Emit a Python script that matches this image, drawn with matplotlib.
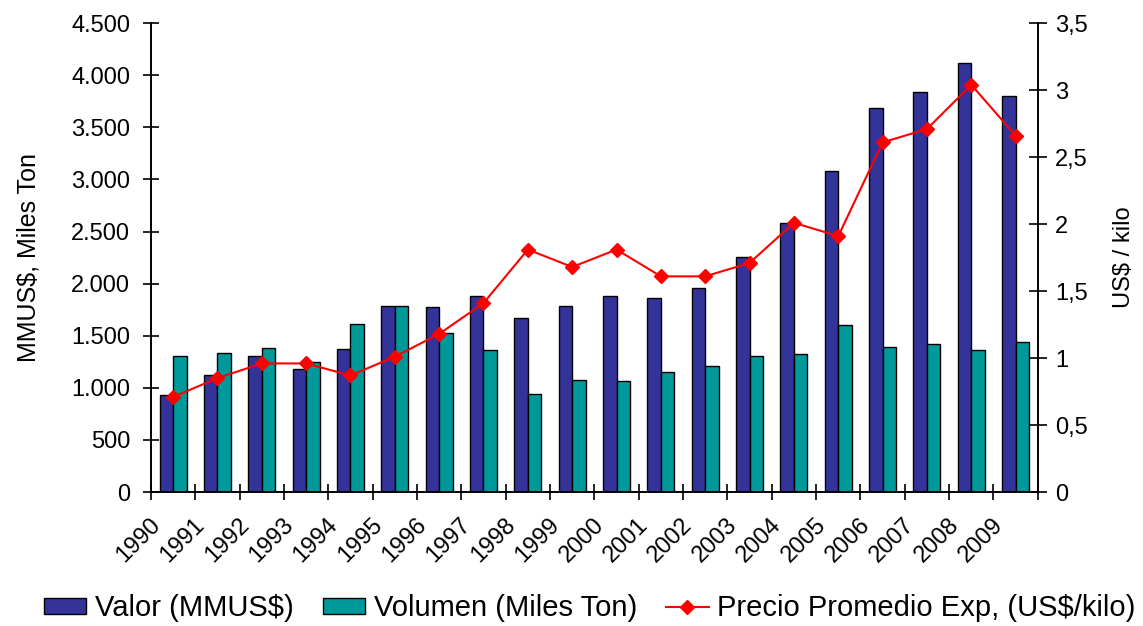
#!/usr/bin/env python3

import numpy as np
import matplotlib
matplotlib.use('Agg')
import matplotlib.pyplot as plt
import matplotlib.transforms as mtransforms
from matplotlib.ticker import FuncFormatter

plt.rcParams['font.family'] = ['Liberation Sans', 'DejaVu Sans']

years = ['1990', '1991', '1992', '1993', '1994', '1995', '1996', '1997', '1998', '1999',
         '2000', '2001', '2002', '2003', '2004', '2005', '2006', '2007', '2008', '2009']
valor = [930, 1125, 1305, 1180, 1375, 1790, 1775, 1885, 1675, 1790,
         1885, 1865, 1960, 2260, 2580, 3085, 3685, 3835, 4120, 3805]
volumen = [1305, 1335, 1385, 1250, 1615, 1790, 1530, 1365, 945, 1075,
           1065, 1155, 1210, 1305, 1325, 1605, 1395, 1425, 1365, 1440]
precio = [0.71, 0.85, 0.96, 0.96, 0.87, 1.01, 1.18, 1.41, 1.81, 1.68,
          1.81, 1.61, 1.61, 1.71, 2.01, 1.91, 2.61, 2.71, 3.04, 2.66]

fs = 17
fig = plt.figure(figsize=(11.43, 6.26), dpi=100)
ax = fig.add_axes([0.132, 0.214, 0.776, 0.749])
ax2 = ax.twinx()

x = np.arange(len(years))
w = 0.305
ax.bar(x - w / 2, valor, w, color='#333399', edgecolor='black', linewidth=1,
       label='Valor (MMUS$)', zorder=2)
ax.bar(x + w / 2, volumen, w, color='#009999', edgecolor='black', linewidth=1,
       label='Volumen (Miles Ton)', zorder=2)
ax2.plot(x, precio, color='red', linewidth=1.5, marker='D', markersize=7,
         label='Precio Promedio Exp, (US$/kilo)')

ax.set_xlim(-0.5, len(years) - 0.5)
ax.set_ylim(0, 4500)
ax2.set_ylim(0, 3.5)

ax.set_yticks(np.arange(0, 4501, 500))
ax.yaxis.set_major_formatter(FuncFormatter(lambda v, p: '{:,.0f}'.format(v).replace(',', '.')))
ax2.set_yticks(np.arange(0, 3.51, 0.5))
ax2.yaxis.set_major_formatter(FuncFormatter(lambda v, p: ('%g' % v).replace('.', ',')))

# year labels: rotated, anchored a bit left/below the category centre (Excel style)
ax.set_xticks([])
ax.set_xticks(np.arange(-0.5, len(years)), minor=True)
shift = mtransforms.ScaledTranslation(-16 / 100, -30 / 100, fig.dpi_scale_trans)
for xi, yr in zip(x, years):
    ax.text(xi, 0, yr, transform=ax.get_xaxis_transform() + shift, fontsize=fs,
            rotation=45, ha='right', va='center', rotation_mode='anchor')
ax.tick_params(axis='x', which='minor', direction='inout', length=11, width=1.2)
ax.tick_params(axis='y', direction='inout', length=12, width=1.2, labelsize=fs, pad=9)
ax2.tick_params(axis='y', direction='inout', length=13, width=1.2, labelsize=fs, pad=6)

for a in (ax, ax2):
    a.spines['top'].set_visible(False)
    for s in ('left', 'right', 'bottom'):
        a.spines[s].set_linewidth(1.2)

ax.set_ylabel('MMUS$, Miles Ton', fontsize=18, labelpad=22)
ax2.set_ylabel('US$ / kilo', fontsize=fs, labelpad=18)

h1, l1 = ax.get_legend_handles_labels()
h2, l2 = ax2.get_legend_handles_labels()
fig.legend(h1 + h2, l1 + l2, loc='center', bbox_to_anchor=(0.516, 0.028), ncol=3,
           frameon=False, fontsize=21, handlelength=1.45, handleheight=0.5,
           handletextpad=0.3, columnspacing=1.0, borderaxespad=0)

fig.savefig('out.png', dpi=100)
